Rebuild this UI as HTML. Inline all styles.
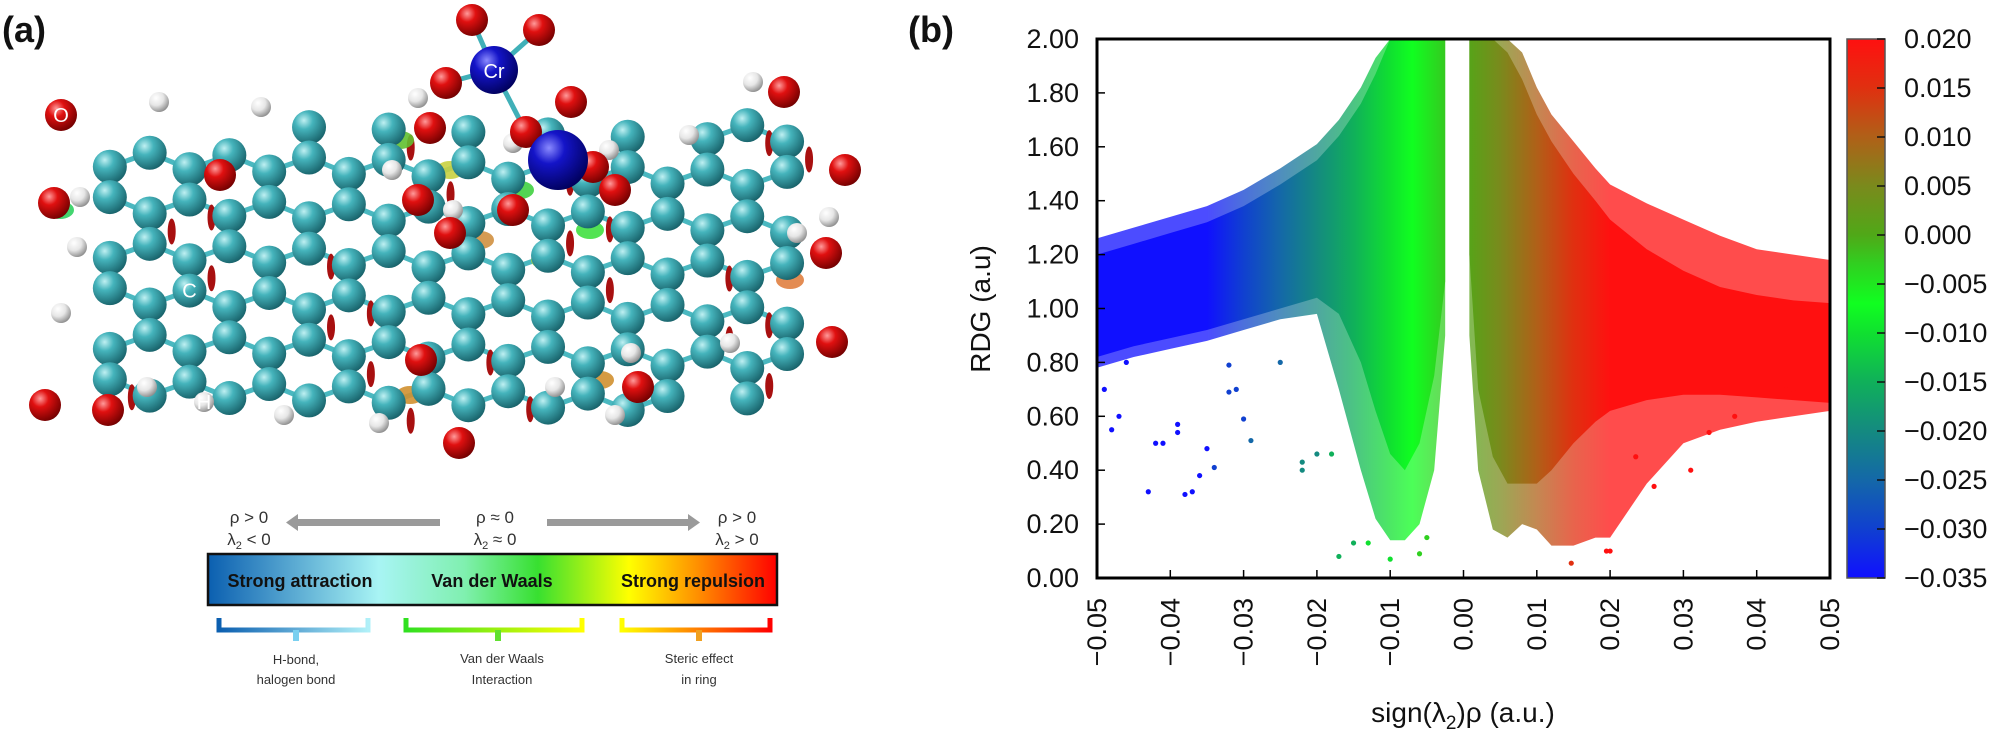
<!DOCTYPE html>
<html><head><meta charset="utf-8">
<style>
html,body{margin:0;padding:0;background:#fff;}
svg{display:block;font-family:"Liberation Sans",Arial,sans-serif;}
</style></head>
<body>
<svg id="root" width="2000" height="734" viewBox="0 0 2000 734" xmlns="http://www.w3.org/2000/svg">
<defs>
  <radialGradient id="gC" cx="0.35" cy="0.3" r="0.75"><stop offset="0" stop-color="#bff0f2"/><stop offset="0.35" stop-color="#45b4bc"/><stop offset="1" stop-color="#176068"/></radialGradient>
  <radialGradient id="gO" cx="0.35" cy="0.3" r="0.75"><stop offset="0" stop-color="#ff9a9a"/><stop offset="0.35" stop-color="#e01010"/><stop offset="1" stop-color="#700000"/></radialGradient>
  <radialGradient id="gH" cx="0.35" cy="0.3" r="0.75"><stop offset="0" stop-color="#ffffff"/><stop offset="0.5" stop-color="#e6e6e6"/><stop offset="1" stop-color="#8a8a8a"/></radialGradient>
  <radialGradient id="gB" cx="0.35" cy="0.3" r="0.75"><stop offset="0" stop-color="#8a8aff"/><stop offset="0.35" stop-color="#1414c8"/><stop offset="1" stop-color="#00005a"/></radialGradient>
  <linearGradient id="legGrad" x1="0" x2="1" y1="0" y2="0">
    <stop offset="0" stop-color="#0b5fb0"/><stop offset="0.3" stop-color="#a8f4f4"/><stop offset="0.45" stop-color="#80f0b0"/>
    <stop offset="0.58" stop-color="#38e030"/><stop offset="0.74" stop-color="#ffff00"/><stop offset="0.86" stop-color="#ff9000"/><stop offset="1" stop-color="#ff0000"/>
  </linearGradient>
  <linearGradient id="brA" x1="0" x2="1"><stop offset="0" stop-color="#0b5fb0"/><stop offset="1" stop-color="#b0f0f8"/></linearGradient>
  <linearGradient id="brV" x1="0" x2="1"><stop offset="0" stop-color="#30e020"/><stop offset="1" stop-color="#ffff00"/></linearGradient>
  <linearGradient id="brS" x1="0" x2="1"><stop offset="0" stop-color="#ffff00"/><stop offset="1" stop-color="#ff0000"/></linearGradient>
</defs>
<g id="panelA"></g>
<g id="legendA"></g>
<g id="panelB"></g>
</svg>
<script>
// ---------------- Chart data (panel b) ----------------
const xTicks = [-0.05,-0.04,-0.03,-0.02,-0.01,0.00,0.01,0.02,0.03,0.04,0.05];
const xTickLabels = ["\u22120.05","\u22120.04","\u22120.03","\u22120.02","\u22120.01","0.00","0.01","0.02","0.03","0.04","0.05"];
const yTicks = [0,0.2,0.4,0.6,0.8,1.0,1.2,1.4,1.6,1.8,2.0];
const yTickLabels = ["0.00","0.20","0.40","0.60","0.80","1.00","1.20","1.40","1.60","1.80","2.00"];
const cbTicks = [0.020,0.015,0.010,0.005,0.000,-0.005,-0.010,-0.015,-0.020,-0.025,-0.030,-0.035];
const cbTickLabels = ["0.020","0.015","0.010","0.005","0.000","\u22120.005","\u22120.010","\u22120.015","\u22120.020","\u22120.025","\u22120.030","\u22120.035"];
const cmapValues = [-0.035,-0.030,-0.025,-0.020,-0.015,-0.010,-0.007,-0.003,0.000,0.005,0.010,0.015,0.020];
const cmapColors = ["#1010ff","#1040d0","#1468a8","#148a80","#10b05a","#10e030","#10ff20","#30d020","#50a818","#7a8a1c","#b06018","#e03010","#ff1010"];
// left (attraction / vdW) wing envelopes
const leftX          = [-0.05,-0.045,-0.04,-0.035,-0.03,-0.025,-0.02,-0.017,-0.014,-0.012,-0.01,-0.008,-0.006,-0.004,-0.0025];
const leftInnerUpper = [1.20,1.24,1.28,1.32,1.38,1.46,1.55,1.64,1.76,1.87,2.0,2.0,2.0,2.0,2.0];
const leftInnerLower = [0.82,0.86,0.89,0.92,0.96,1.00,1.04,0.98,0.80,0.62,0.46,0.40,0.50,0.75,1.10];
const leftOuterUpper = [1.26,1.30,1.34,1.38,1.44,1.52,1.61,1.70,1.82,1.93,2.0,2.0,2.0,2.0,2.0];
const leftOuterLower = [0.78,0.82,0.85,0.88,0.92,0.96,0.98,0.70,0.40,0.22,0.14,0.14,0.20,0.40,0.90];
// right (repulsion) wing envelopes
const rightX          = [0.0008,0.002,0.004,0.006,0.008,0.010,0.012,0.015,0.018,0.020,0.025,0.030,0.035,0.040,0.045,0.050];
const rightInnerUpper = [2.0,2.0,2.0,1.95,1.85,1.72,1.62,1.50,1.40,1.33,1.22,1.14,1.08,1.05,1.03,1.02];
const rightInnerLower = [1.20,0.70,0.45,0.35,0.35,0.35,0.40,0.50,0.58,0.62,0.66,0.68,0.68,0.67,0.66,0.65];
const rightOuterUpper = [2.0,2.0,2.0,2.0,1.95,1.82,1.72,1.62,1.52,1.46,1.39,1.33,1.27,1.22,1.20,1.18];
const rightOuterLower = [0.90,0.40,0.18,0.15,0.20,0.18,0.12,0.12,0.15,0.15,0.35,0.50,0.55,0.58,0.60,0.62];
// isolated points
const outlierX = [-0.049,-0.048,-0.047,-0.046,-0.043,-0.042,-0.041,-0.039,-0.039,-0.038,-0.037,-0.036,-0.035,-0.034,-0.032,-0.031,-0.030,-0.029,-0.032,-0.022,-0.022,-0.025,-0.020,-0.018,-0.017,-0.015,-0.013,-0.010,-0.006,-0.005,0.0147,0.0195,0.020,0.026,0.031,0.0335,0.037,0.044,0.045,0.0235];
const outlierY = [0.70,0.55,0.60,0.80,0.32,0.50,0.50,0.57,0.54,0.31,0.32,0.38,0.48,0.41,0.69,0.70,0.59,0.51,0.79,0.43,0.40,0.80,0.46,0.46,0.08,0.13,0.13,0.07,0.09,0.15,0.055,0.10,0.10,0.34,0.40,0.54,0.60,0.70,0.70,0.45];

// ---------------- Panel b drawing ----------------
const NS = "http://www.w3.org/2000/svg";
function mk(tag, attrs, parent){ const e=document.createElementNS(NS,tag); for(const k in attrs) e.setAttribute(k,attrs[k]); if(parent) parent.appendChild(e); return e; }
const PX0=1097, PX1=1830, PY0=578, PY1=39;
const xS = v => PX0 + (v+0.05)/0.1*(PX1-PX0);
const yS = v => PY0 - v/2*(PY0-PY1);
const colorFor = v => {
  if (v<=cmapValues[0]) return cmapColors[0];
  for (let i=1;i<cmapValues.length;i++){ if (v<=cmapValues[i]) return cmapColors[i]; }
  return cmapColors[cmapColors.length-1];
};
const B = document.getElementById('panelB');
const defs = document.querySelector('defs');
const sg = mk('linearGradient',{id:'scGrad',gradientUnits:'userSpaceOnUse',x1:xS(cmapValues[0]),x2:xS(cmapValues[cmapValues.length-1]),y1:0,y2:0},defs);
const cg = mk('linearGradient',{id:'cbGrad',x1:0,x2:0,y1:1,y2:0},defs);
const span = cmapValues[cmapValues.length-1]-cmapValues[0];
cmapValues.forEach((v,i)=>{
  mk('stop',{offset:(v-cmapValues[0])/span,'stop-color':cmapColors[i]},sg);
  mk('stop',{offset:(v-cmapValues[0])/span,'stop-color':cmapColors[i]},cg);
});
mk('clipPath',{id:'plotClip'},defs).appendChild(mk('rect',{x:PX0,y:PY1,width:PX1-PX0,height:PY0-PY1}));

function band(xs, up, lo, op, name){
  let pts=[]; xs.forEach((x,i)=>pts.push(xS(x)+','+yS(up[i])));
  for(let i=xs.length-1;i>=0;i--) pts.push(xS(xs[i])+','+yS(lo[i]));
  const p = mk('polygon',{points:pts.join(' '),fill:'url(#scGrad)','fill-opacity':op,'clip-path':'url(#plotClip)'},B);
  
  
}
band(leftX,leftOuterUpper,leftOuterLower,0.75,'left-wing-sparse');
band(leftX,leftInnerUpper,leftInnerLower,1,'left-wing-dense');
band(rightX,rightOuterUpper,rightOuterLower,0.75,'right-wing-sparse');
band(rightX,rightInnerUpper,rightInnerLower,1,'right-wing-dense');
outlierX.forEach((x,i)=>{
  const c = mk('circle',{cx:xS(x),cy:yS(outlierY[i]),r:2.6,fill:colorFor(x)},B);
  
  
});
// frame
const fr = mk('rect',{x:PX0,y:PY1,width:PX1-PX0,height:PY0-PY1,fill:'none',stroke:'#000','stroke-width':3},B);
 
// ticks
yTicks.forEach((v,i)=>{
  mk('line',{x1:PX0,x2:PX0+8,y1:yS(v),y2:yS(v),stroke:'#000','stroke-width':1.5},B);
  const t = mk('text',{x:PX0-18,y:yS(v)+9,'text-anchor':'end','font-size':27,fill:'#111'},B);
  t.textContent = yTickLabels[i];
   
});
xTicks.forEach((v,i)=>{
  mk('line',{x1:xS(v),x2:xS(v),y1:PY0,y2:PY0-8,stroke:'#000','stroke-width':1.5},B);
  const t = mk('text',{x:0,y:0,'text-anchor':'end','font-size':27,fill:'#111',transform:`translate(${xS(v)+9},${PY0+20}) rotate(-90)`},B);
  t.textContent = xTickLabels[i];
   
});
// axis titles
let t = mk('text',{x:1463,y:722,'text-anchor':'middle','font-size':28,fill:'#111'},B);
t.innerHTML = 'sign(\u03bb<tspan font-size="19" dy="7">2</tspan><tspan dy="-7">)\u03c1 (a.u.)</tspan>';
 
t = mk('text',{x:0,y:0,'text-anchor':'middle','font-size':28,fill:'#111',transform:'translate(990,309) rotate(-90)'},B);
t.textContent = 'RDG (a.u)';
 
t = mk('text',{x:908,y:42,'font-size':36,'font-weight':'bold',fill:'#111'},B);
t.textContent = '(b)';
 
// colorbar
const CB0=PY0, CB1=PY1;
const cbY = v => CB0 - (v-cbTicks[cbTicks.length-1])/(cbTicks[0]-cbTicks[cbTicks.length-1])*(CB0-CB1);
const cb = mk('rect',{x:1847,y:CB1,width:38,height:CB0-CB1,fill:'url(#cbGrad)',stroke:'#555','stroke-width':1.5},B);
 
cbTicks.forEach((v,i)=>{
  mk('line',{x1:1877,x2:1885,y1:cbY(v),y2:cbY(v),stroke:'#111','stroke-width':1.5},B);
  const l = mk('text',{x:1904,y:cbY(v)+9,'font-size':27,fill:'#111'},B);
  l.textContent = cbTickLabels[i];
   
});

// ---------------- Panel a: molecule ----------------
const A = document.getElementById('panelA');
t = mk('text',{x:2,y:42,'font-size':36,'font-weight':'bold',fill:'#111'},A);
t.textContent='(a)';
 
const a=46, vf=0.66, atoms=[];
for(let j=-3;j<14;j++){ for(let i=-5;i<22;i++){
  const bx = 70 + i*a*Math.sqrt(3) + j*a*Math.sqrt(3)/2;
  const by = 120 + j*a*1.5*vf;
  [[0,0],[0,a*vf]].forEach(o=>{
    const x=bx+o[0], y=by+o[1] + (bx-70)*0.03;
    if(x>78 && x<825 && y>125 && y<410) atoms.push([x,y]);
  });
}}
const bondG = mk('g',{},A), atomG = mk('g',{},A);
for(let p=0;p<atoms.length;p++) for(let q=p+1;q<atoms.length;q++){
  const dx=atoms[p][0]-atoms[q][0], dy=atoms[p][1]-atoms[q][1], d=Math.hypot(dx,dy);
  if(d<a*1.02) mk('line',{x1:atoms[p][0],y1:atoms[p][1],x2:atoms[q][0],y2:atoms[q][1],stroke:'#4ab8c0','stroke-width':5},bondG);
}
for(let k=0;k<atoms.length;k+=5){
  const [x,y]=atoms[k];
  mk('ellipse',{cx:x+22,cy:y+18,rx:4,ry:13,fill:'#a81010'},bondG);
}
const blobs=[[400,140,'#60c030'],[450,170,'#c8d040'],[520,190,'#40d040'],[480,240,'#d09040'],[545,260,'#a0d040'],[590,230,'#40e040'],[630,262,'#b8d020'],[60,210,'#30d060'],[790,280,'#e08040'],[600,380,'#d09030'],[410,395,'#d09030']];
blobs.forEach(b=>mk('ellipse',{cx:b[0],cy:b[1],rx:14,ry:9,fill:b[2],opacity:0.9},bondG));
atoms.forEach(p=>{
  const c=mk('circle',{cx:p[0],cy:p[1],r:17,fill:'url(#gC)'},atomG);
   
});
const Os=[[61,115],[54,203],[45,405],[108,410],[220,175],[418,200],[430,128],[446,83],[472,20],[539,30],[526,132],[571,102],[593,167],[615,190],[513,210],[450,233],[784,92],[845,170],[826,253],[832,342],[638,387],[421,360],[459,443]];
const Hs=[[159,102],[261,107],[80,197],[77,247],[61,313],[147,387],[204,402],[284,415],[379,423],[555,387],[615,415],[753,82],[689,135],[829,217],[797,233],[418,98],[513,143],[609,150],[392,170],[453,210],[730,343],[631,353]];
[[446,83],[472,20],[539,30],[526,132]].forEach(o=>mk('line',{x1:494,y1:70,x2:o[0],y2:o[1],stroke:'#40b0b8','stroke-width':5},atomG));
Hs.forEach(p=>{const c=mk('circle',{cx:p[0],cy:p[1],r:10,fill:'url(#gH)'},atomG);  });
Os.forEach(p=>{const c=mk('circle',{cx:p[0],cy:p[1],r:16,fill:'url(#gO)'},atomG);  });
let cr=mk('circle',{cx:494,cy:70,r:24,fill:'url(#gB)'},atomG);  
cr=mk('circle',{cx:558,cy:160,r:30,fill:'url(#gB)'},atomG);  
const lbl=(x,y,s,n)=>{const e=mk('text',{x:x,y:y,'text-anchor':'middle','font-size':20,fill:'#fff'},atomG); e.textContent=s;  };
lbl(494,78,'Cr','cr-label'); lbl(61,122,'O','o-label'); lbl(204,409,'H','h-label');
const cAt = atoms.reduce((b,p)=>Math.hypot(p[0]-198,p[1]-290)<Math.hypot(b[0]-198,b[1]-290)?p:b);
lbl(cAt[0], cAt[1]+7,'C','c-label');

// ---------------- Legend (panel a) ----------------
const L = document.getElementById('legendA');
L.innerHTML = `
<g font-family="'Liberation Sans',sans-serif" fill="#333">
  <text x="249" y="523" text-anchor="middle" font-size="17">ρ &gt; 0</text>
  <text x="249" y="545" text-anchor="middle" font-size="17">λ<tspan font-size="11" dy="4">2</tspan><tspan dy="-4"> &lt; 0</tspan></text>
  <text x="495" y="523" text-anchor="middle" font-size="17">ρ ≈ 0</text>
  <text x="495" y="545" text-anchor="middle" font-size="17">λ<tspan font-size="11" dy="4">2</tspan><tspan dy="-4"> ≈ 0</tspan></text>
  <text x="737" y="523" text-anchor="middle" font-size="17">ρ &gt; 0</text>
  <text x="737" y="545" text-anchor="middle" font-size="17">λ<tspan font-size="11" dy="4">2</tspan><tspan dy="-4"> &gt; 0</tspan></text>
</g>
<g><rect x="295" y="519" width="145" height="7" fill="#9a9a9a"/><polygon points="286,522.5 298,514 298,531" fill="#9a9a9a"/></g>
<g><rect x="547" y="519" width="145" height="7" fill="#9a9a9a"/><polygon points="700,522.5 688,514 688,531" fill="#9a9a9a"/></g>
<rect x="208" y="554" width="569" height="51" fill="url(#legGrad)" stroke="#111" stroke-width="2.5"/>
<g font-family="'Liberation Sans',sans-serif" font-weight="bold" font-size="18" fill="#111">
  <text x="300" y="587" text-anchor="middle">Strong attraction</text>
  <text x="492" y="587" text-anchor="middle">Van der Waals</text>
  <text x="693" y="587" text-anchor="middle">Strong repulsion</text>
</g>
<polyline points="219,618 219,630 368,630 368,618" fill="none" stroke="url(#brA)" stroke-width="5"/>
<line x1="296" y1="630" x2="296" y2="641" stroke="#7ad0f0" stroke-width="6"/>
<polyline points="406,618 406,630 582,630 582,618" fill="none" stroke="url(#brV)" stroke-width="5"/>
<line x1="498" y1="630" x2="498" y2="641" stroke="#60e030" stroke-width="6"/>
<polyline points="622,618 622,630 770,630 770,618" fill="none" stroke="url(#brS)" stroke-width="5"/>
<line x1="699" y1="630" x2="699" y2="641" stroke="#f0a020" stroke-width="6"/>
<g font-family="'Liberation Sans',sans-serif" font-size="13" fill="#333" text-anchor="middle">
  <text x="296" y="664">H-bond,</text>
  <text x="296" y="684">halogen bond</text>
  <text x="502" y="663">Van der Waals</text>
  <text x="502" y="684">Interaction</text>
  <text x="699" y="663">Steric effect</text>
  <text x="699" y="684">in ring</text>
</g>`;
</script>
</body></html>
